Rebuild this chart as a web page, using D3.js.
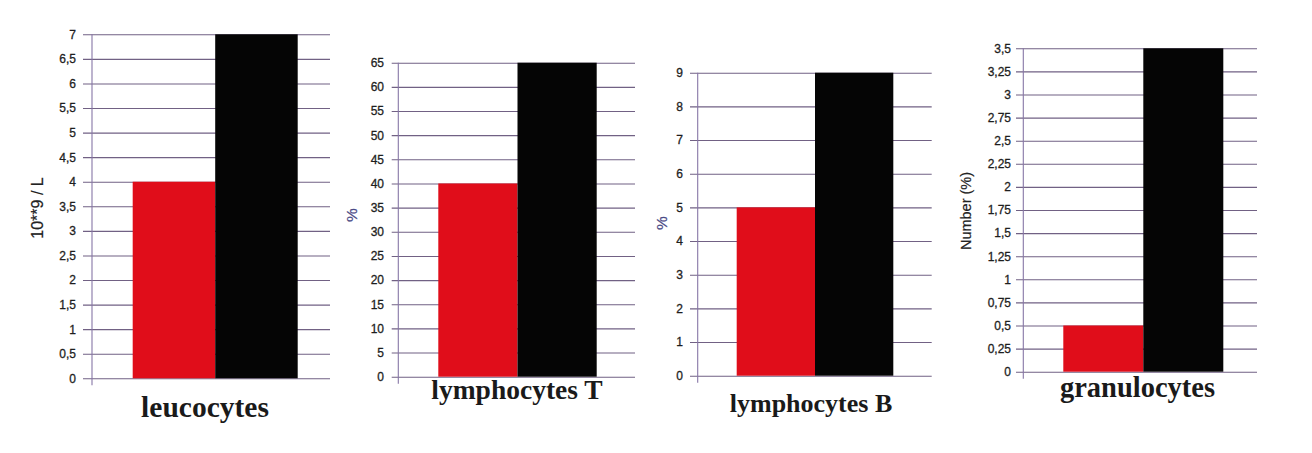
<!DOCTYPE html>
<html>
<head>
<meta charset="utf-8">
<script src="https://cdn.jsdelivr.net/npm/d3@7"></script>
<style>
  html, body { margin: 0; padding: 0; background: #ffffff; }
  svg { display: block; }
</style>
</head>
<body>
<svg id="chart" width="1312" height="453"></svg>
<script>
// ---- data ----
const panelTitles = ["leucocytes", "lymphocytes T", "lymphocytes B", "granulocytes"];
const axisTitles = ["10**9 / L", "%", "%", "Number (%)"];
const seriesNames = ["red", "black"];
const redValues = [4, 40, 5, 0.5];
const blackValues = [7, 65, 9, 3.5];
const ticksLeucocytes = [0, 0.5, 1, 1.5, 2, 2.5, 3, 3.5, 4, 4.5, 5, 5.5, 6, 6.5, 7];
const ticksLymphoT = [0, 5, 10, 15, 20, 25, 30, 35, 40, 45, 50, 55, 60, 65];
const ticksLymphoB = [0, 1, 2, 3, 4, 5, 6, 7, 8, 9];
const ticksGranulo = [0, 0.25, 0.5, 0.75, 1, 1.25, 1.5, 1.75, 2, 2.25, 2.5, 2.75, 3, 3.25, 3.5];
const tickSets = [ticksLeucocytes, ticksLymphoT, ticksLymphoB, ticksGranulo];

// ---- layout (positions only) ----
const layout = [
  { axisX: 92,    gridL: 83,   gridR: 330,  y0: 378.3, yTop: 34.3, barL: 132.7, barR: 297.7, labR: 76,   titleX: 205,  titleY: 417, titleSize: 29.5, atX: 39,  atY: 208, atColor: "#222", atSize: 16 },
  { axisX: 398.3, gridL: 391.7,gridR: 635,  y0: 376.7, yTop: 62.7, barL: 438.3, barR: 596.7, labR: 384,  titleX: 517,  titleY: 398.5, titleSize: 27.5, atX: 353, atY: 215, atColor: "#4a4a86", atSize: 15.5 },
  { axisX: 697.7, gridL: 690,  gridR: 931.7,y0: 375.7, yTop: 72.7, barL: 736.7, barR: 893.3, labR: 683,  titleX: 811,  titleY: 411.5, titleSize: 26, atX: 663, atY: 223, atColor: "#4a4a86", atSize: 15.5 },
  { axisX: 1023.3,gridL: 1016, gridR: 1257, y0: 371.7, yTop: 48.3, barL: 1063.3,barR: 1223.3,labR: 1011, titleX: 1137.5, titleY: 397, titleSize: 28.5, atX: 967, atY: 211, atColor: "#222", atSize: 14.5 }
];

const colors = { red: "#e00d1a", black: "#050505" };
const svg = d3.select("#chart");
svg.append("rect").attr("width", 1312).attr("height", 453).attr("fill", "#ffffff");

const fmt = v => String(v).replace(".", ",");

layout.forEach((L, i) => {
  const ticks = tickSets[i];
  const maxV = ticks[ticks.length - 1];
  const y = d3.scaleLinear().domain([0, maxV]).range([L.y0, L.yTop]);
  const x = d3.scaleBand().domain(seriesNames).range([L.barL, L.barR]).paddingInner(0).paddingOuter(0);
  const g = svg.append("g");

  // gridlines + tick labels via d3 axis
  const axis = d3.axisLeft(y)
    .tickValues(ticks)
    .tickSize(L.gridR - L.gridL)
    .tickPadding(L.gridL - L.labR)
    .tickFormat(fmt);
  const ag = g.append("g")
    .attr("transform", `translate(${L.gridR},0)`)
    .call(axis);
  ag.select(".domain").remove();
  ag.selectAll(".tick line").attr("stroke", "#716184").attr("stroke-width", 1.1);
  ag.selectAll(".tick text")
    .attr("fill", "#1e1e1e")
    .attr("font-family", "Liberation Sans, Arial, sans-serif")
    .attr("font-size", 12)
    .attr("stroke", "#1e1e1e").attr("stroke-width", 0.3);

  // vertical axis line
  g.append("line")
    .attr("x1", L.axisX).attr("x2", L.axisX)
    .attr("y1", y(maxV)).attr("y2", y(0) + 7)
    .attr("stroke", "#8676a6").attr("stroke-width", 1.1);

  // bars
  const vals = [redValues[i], blackValues[i]];
  g.selectAll("rect.bar")
    .data(seriesNames.map((s, k) => ({ s, v: vals[k] })))
    .join("rect")
    .attr("class", "bar")
    .attr("x", d => x(d.s))
    .attr("width", x.bandwidth())
    .attr("y", d => y(d.v))
    .attr("height", d => y(0) - y(d.v))
    .attr("fill", d => colors[d.s]);

  // axis title
  g.append("text")
    .attr("transform", `translate(${L.atX},${L.atY}) rotate(-90)`)
    .attr("text-anchor", "middle")
    .attr("dominant-baseline", "middle")
    .attr("font-family", "Liberation Sans, Arial, sans-serif")
    .attr("font-size", L.atSize)
    .attr("fill", L.atColor)
    .attr("stroke", L.atColor).attr("stroke-width", 0.2)
    .text(axisTitles[i]);

  // panel title
  g.append("text")
    .attr("x", L.titleX).attr("y", L.titleY)
    .attr("text-anchor", "middle")
    .attr("font-family", "Liberation Serif, Times New Roman, serif")
    .attr("font-weight", "bold")
    .attr("font-size", L.titleSize)
    .attr("fill", "#1a1a1a")
    .text(panelTitles[i]);
});
</script>
</body>
</html>
